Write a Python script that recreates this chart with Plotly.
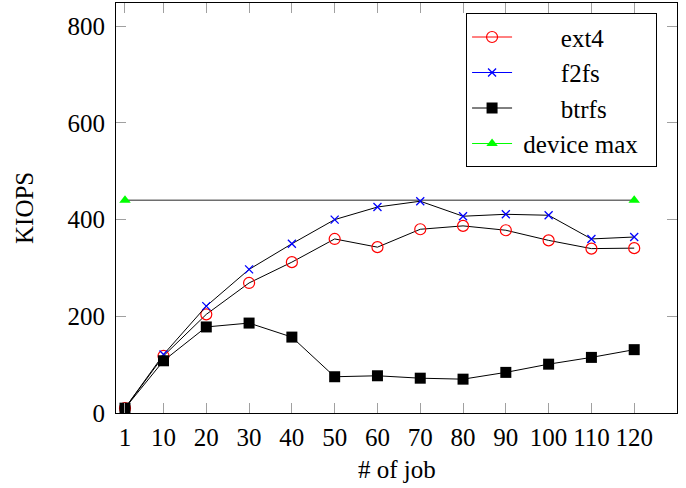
import plotly.graph_objects as go

jobs = [1, 10, 20, 30, 40, 50, 60, 70, 80, 90, 100, 110, 120]
ext4 = [10, 118, 204, 269, 312, 360, 343, 380, 387, 378, 357, 340, 341]
f2fs = [10, 121, 221, 297, 350, 400, 426, 438, 407, 411, 409, 360, 364]
btrfs = [10, 108, 178, 186, 157, 75, 77, 72, 70, 84, 101, 115, 131]
device_x = [1, 120]
device_max = [440, 440]
y_ticks = [0, 200, 400, 600, 800]

FONT = "'Liberation Serif', 'Times New Roman', Times, 'DejaVu Serif', serif"
FS = 25
NB = "\u00a0"

series = [
    ("ext4", 7, ext4, "#ff0000", dict(symbol="circle-open", size=11, line=dict(width=1.2))),
    ("f2fs", 7, f2fs, "#0000ff", dict(symbol="x-thin-open", size=8, line=dict(width=1.3))),
    ("btrfs", 7, btrfs, "#000000", dict(symbol="square", size=11)),
]

fig = go.Figure()

fig.add_trace(go.Scatter(
    x=device_x, y=device_max, mode="lines+markers", showlegend=False,
    line=dict(color="#6e6e6e", width=1.6),
    marker=dict(symbol="triangle-up", size=10, color="#00ff00"),
))

for name, pad, vals, col, mk in series:
    m = dict(mk)
    m["color"] = col
    fig.add_trace(go.Scatter(
        x=jobs, y=vals, mode="lines+markers", showlegend=False,
        line=dict(color="#000000", width=1),
        marker=m,
    ))

for name, pad, vals, col, mk in series:
    m = dict(mk)
    m["color"] = col
    fig.add_trace(go.Scatter(
        x=[None], y=[None], mode="lines+markers", name=NB * pad + name,
        line=dict(color=col, width=1), marker=m,
    ))
fig.add_trace(go.Scatter(
    x=[None], y=[None], mode="lines+markers", name=NB + "device max" + NB * 2,
    line=dict(color="#00ff00", width=1),
    marker=dict(symbol="triangle-up", size=10, color="#00ff00"),
))

axis_common = dict(
    showline=True, linecolor="#000000", linewidth=1, mirror="allticks",
    ticks="inside", ticklen=10, tickcolor="#a0a0a0", tickwidth=1,
    showgrid=False, zeroline=False, automargin=False,
    tickfont=dict(family=FONT, size=FS, color="#000000"),
)

fig.update_layout(
    width=686, height=488,
    margin=dict(l=116, r=9, t=3, b=75),
    paper_bgcolor="white", plot_bgcolor="white",
    font=dict(family=FONT, size=FS, color="#000000"),
    xaxis=dict(range=[-1.1, 130], tickvals=jobs, ticktext=[str(j) for j in jobs],
               ticklabelstandoff=2, **axis_common),
    yaxis=dict(range=[0, 848], tickvals=y_ticks, ticklabelstandoff=5, **axis_common),
    legend=dict(x=0.624, y=0.975, xanchor="left", yanchor="top",
                bgcolor="white", bordercolor="#000000", borderwidth=1,
                font=dict(family=FONT, size=FS, color="#000000"),
                itemwidth=40, tracegroupgap=0),
    annotations=[
        dict(text="KIOPS", xref="paper", yref="paper", x=-0.164, y=0.5,
             textangle=-90, showarrow=False, xanchor="center", yanchor="middle",
             font=dict(family=FONT, size=FS, color="#000000")),
        dict(text="# of job", xref="paper", yref="paper", x=0.5, y=-0.139,
             showarrow=False, xanchor="center", yanchor="middle",
             font=dict(family=FONT, size=FS, color="#000000")),
    ],
)

fig.write_html("out.html", config={"displayModeBar": False},
               post_script="document.body.style.margin='0';")
